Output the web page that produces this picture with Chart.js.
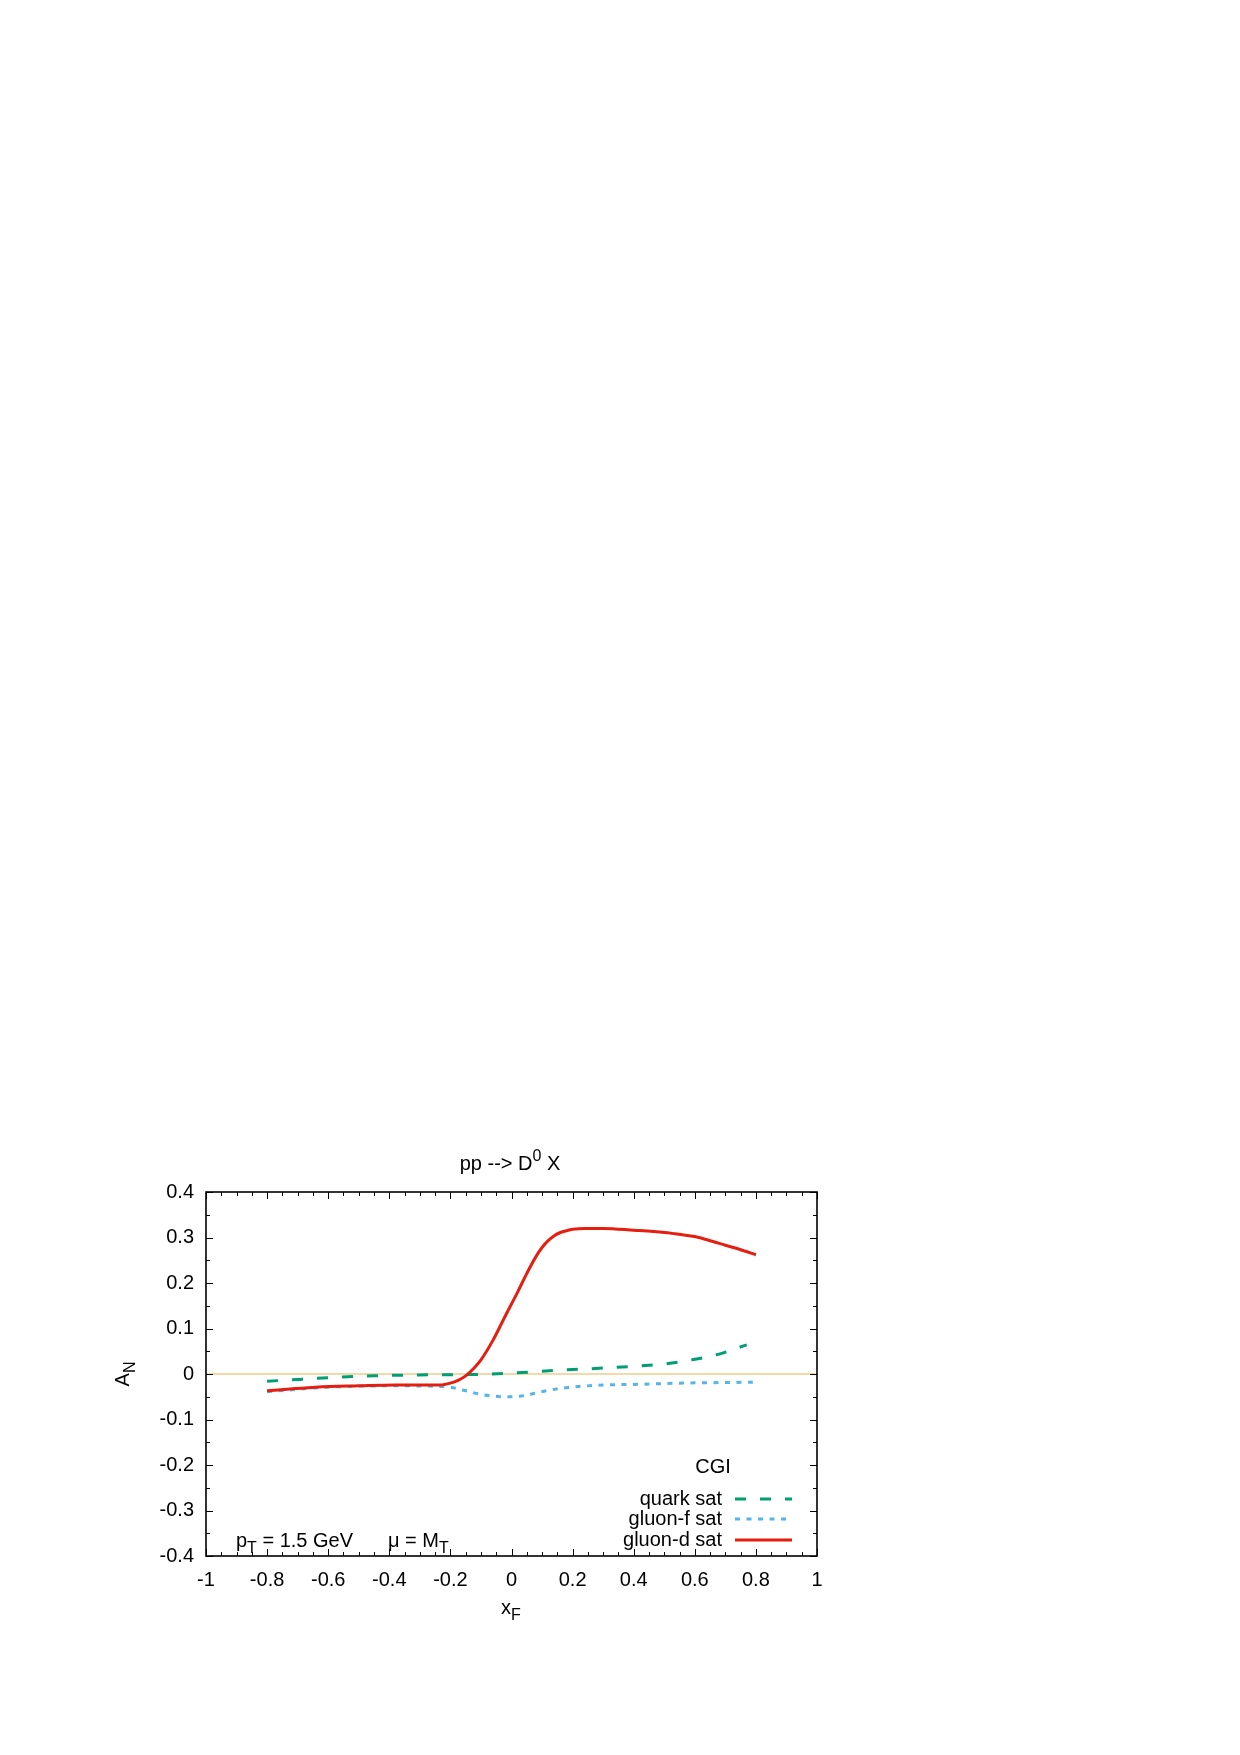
<!DOCTYPE html>
<html>
<head>
<meta charset="utf-8">
<script src="https://cdn.jsdelivr.net/npm/chart.js@4.4.1/dist/chart.umd.min.js"></script>
<style>
  html, body { margin: 0; padding: 0; background: #ffffff; }
  #c { position: absolute; left: 0; top: 0; }
</style>
</head>
<body>
<canvas id="c" width="1240" height="1755"></canvas>
<script>
// ---- data ----
const redX   = [-0.80, -0.725, -0.64, -0.50, -0.38, -0.30, -0.234, -0.20, -0.175, -0.15, -0.12, -0.10, -0.06, -0.02, 0.02, 0.05, 0.08, 0.10, 0.12, 0.14, 0.16, 0.18, 0.20, 0.24, 0.30, 0.40, 0.50, 0.56, 0.60, 0.64, 0.70, 0.76, 0.80];
const redY   = [-0.037, -0.033, -0.029, -0.026, -0.024, -0.024, -0.024, -0.020, -0.014, -0.004, 0.015, 0.031, 0.075, 0.128, 0.180, 0.221, 0.258, 0.278, 0.293, 0.304, 0.311, 0.315, 0.318, 0.320, 0.320, 0.316, 0.311, 0.306, 0.302, 0.295, 0.283, 0.271, 0.262];
const greenX = [-0.80, -0.70, -0.60, -0.45, -0.30, -0.12, 0.00, 0.15, 0.30, 0.40, 0.50, 0.58, 0.67, 0.77];
const greenY = [-0.016, -0.012, -0.008, -0.004, -0.002, -0.001, 0.002, 0.008, 0.013, 0.017, 0.022, 0.030, 0.042, 0.064];
const blueX  = [-0.80, -0.60, -0.40, -0.25, -0.20, -0.16, -0.09, -0.02, 0.04, 0.09, 0.18, 0.31, 0.40, 0.56, 0.79];
const blueY  = [-0.039, -0.029, -0.026, -0.027, -0.029, -0.035, -0.046, -0.050, -0.048, -0.040, -0.030, -0.024, -0.023, -0.020, -0.018];

const seriesNames = ['quark sat', 'gluon-f sat', 'gluon-d sat'];
const xTickValues = [-1, -0.8, -0.6, -0.4, -0.2, 0, 0.2, 0.4, 0.6, 0.8, 1];
const xTickLabels = ['-1', '-0.8', '-0.6', '-0.4', '-0.2', '0', '0.2', '0.4', '0.6', '0.8', '1'];
const yTickValues = [-0.4, -0.3, -0.2, -0.1, 0, 0.1, 0.2, 0.3, 0.4];
const yTickLabels = ['-0.4', '-0.3', '-0.2', '-0.1', '0', '0.1', '0.2', '0.3', '0.4'];

const FONT = '"Liberation Sans", Arial, Helvetica, sans-serif';
const GREEN = '#009E73', BLUE = '#56B4E9', RED = '#E51E10';

function pts(xs, ys) { return xs.map((x, i) => ({ x: x, y: ys[i] })); }

function textWithSub(ctx, parts, x, y, align) {
  const base = 20, small = 16;
  let total = 0;
  parts.forEach(p => {
    ctx.font = ((p.sub || p.sup) ? small : base) + 'px ' + FONT;
    p.w = ctx.measureText(p.t).width; total += p.w;
  });
  let cx = align === 'center' ? x - total / 2 : (align === 'right' ? x - total : x);
  ctx.textAlign = 'left';
  ctx.textBaseline = 'alphabetic';
  parts.forEach(p => {
    ctx.font = ((p.sub || p.sup) ? small : base) + 'px ' + FONT;
    const dy = p.sub ? 6 : (p.sup ? -9 : 0);
    ctx.fillText(p.t, cx, y + dy);
    cx += p.w;
  });
}

const framePlugin = {
  id: 'frame',
  beforeDatasetsDraw(chart) {
    const ctx = chart.ctx, a = chart.chartArea, ys = chart.scales.y;
    const y0 = ys.getPixelForValue(0);
    ctx.save();
    ctx.strokeStyle = '#F1D9A8';
    ctx.lineWidth = 2;
    ctx.beginPath(); ctx.moveTo(a.left, y0); ctx.lineTo(a.right, y0); ctx.stroke();
    ctx.restore();
  },
  afterDraw(chart) {
    const ctx = chart.ctx, a = chart.chartArea, xs = chart.scales.x, ys = chart.scales.y;
    ctx.save();
    ctx.fillStyle = '#000';
    ctx.strokeStyle = '#000';
    ctx.lineWidth = 1;
    ctx.beginPath();
    for (let i = 0; i <= 40; i++) {
      const v = -1 + i * 0.05;
      const px = Math.round(xs.getPixelForValue(v)) + 0.5;
      const len = (i % 4 === 0) ? 7 : 4;
      ctx.moveTo(px, a.bottom); ctx.lineTo(px, a.bottom - len);
      ctx.moveTo(px, a.top); ctx.lineTo(px, a.top + len);
    }
    for (let i = 0; i <= 16; i++) {
      const v = -0.4 + i * 0.05;
      const py = Math.round(ys.getPixelForValue(v)) + 0.5;
      const len = (i % 2 === 0) ? 7 : 4;
      ctx.moveTo(a.left, py); ctx.lineTo(a.left + len, py);
      ctx.moveTo(a.right, py); ctx.lineTo(a.right - len, py);
    }
    ctx.stroke();
    ctx.lineWidth = 1.6;
    ctx.strokeRect(a.left, a.top, a.right - a.left, a.bottom - a.top);

    textWithSub(ctx, [{ t: 'pp --> D' }, { t: '0', sup: true }, { t: ' X' }], 510, 1170, 'center');
    textWithSub(ctx, [{ t: 'x' }, { t: 'F', sub: true }], 511, 1614, 'center');
    ctx.save();
    ctx.translate(129, 1374);
    ctx.rotate(-Math.PI / 2);
    textWithSub(ctx, [{ t: 'A' }, { t: 'N', sub: true }], 0, 0, 'center');
    ctx.restore();
    textWithSub(ctx, [{ t: 'p' }, { t: 'T', sub: true }, { t: ' = 1.5 GeV' }], 236, 1547, 'left');
    textWithSub(ctx, [{ t: '\u03BC = M' }, { t: 'T', sub: true }], 388, 1547, 'left');

    ctx.font = '20px ' + FONT;
    ctx.textAlign = 'center';
    ctx.textBaseline = 'middle';
    ctx.fillText('CGI', 713, 1467);
    const rows = [
      { name: seriesNames[0], color: GREEN, dash: [11, 14], y: 1499 },
      { name: seriesNames[1], color: BLUE, dash: [5, 6.5], y: 1519 },
      { name: seriesNames[2], color: RED, dash: [], y: 1540 }
    ];
    rows.forEach(r => {
      ctx.textAlign = 'right';
      ctx.fillStyle = '#000';
      ctx.fillText(r.name, 722, r.y);
      ctx.strokeStyle = r.color;
      ctx.lineWidth = 3;
      ctx.setLineDash(r.dash);
      ctx.beginPath(); ctx.moveTo(735, r.y); ctx.lineTo(792, r.y); ctx.stroke();
      ctx.setLineDash([]);
    });
    ctx.restore();
  }
};

new Chart(document.getElementById('c'), {
  type: 'line',
  data: {
    datasets: [
      { label: seriesNames[2], data: pts(redX, redY), borderColor: RED, borderWidth: 3, order: 1,
        cubicInterpolationMode: 'monotone', pointRadius: 0, fill: false },
      { label: seriesNames[0], data: pts(greenX, greenY), borderColor: GREEN, borderWidth: 3, order: 2,
        borderDash: [11, 14], cubicInterpolationMode: 'monotone', pointRadius: 0, fill: false },
      { label: seriesNames[1], data: pts(blueX, blueY), borderColor: BLUE, borderWidth: 3, order: 3,
        borderDash: [5, 6.5], cubicInterpolationMode: 'monotone', pointRadius: 0, fill: false }
    ]
  },
  options: {
    responsive: false,
    animation: false,
    devicePixelRatio: 1,
    events: [],
    layout: { padding: { left: 0, top: 1192, right: 423, bottom: 139 } },
    plugins: { legend: { display: false }, title: { display: false }, tooltip: { enabled: false } },
    scales: {
      x: {
        type: 'linear', min: -1, max: 1,
        grid: { display: false, drawTicks: false },
        border: { display: false },
        afterBuildTicks: s => { s.ticks = xTickValues.map(v => ({ value: v })); },
        afterFit: s => { s.height = 60; },
        ticks: { color: '#000', font: { family: FONT, size: 20 }, padding: 12, maxRotation: 0,
                 autoSkip: false, callback: (v, i) => xTickLabels[i] }
      },
      y: {
        type: 'linear', min: -0.4, max: 0.4,
        grid: { display: false, drawTicks: false },
        border: { display: false },
        afterBuildTicks: s => { s.ticks = yTickValues.map(v => ({ value: v })); },
        afterFit: s => { s.width = 206; },
        ticks: { color: '#000', font: { family: FONT, size: 20 }, padding: 12,
                 autoSkip: false, callback: (v, i) => yTickLabels[i] }
      }
    }
  },
  plugins: [framePlugin]
});
</script>
</body>
</html>
